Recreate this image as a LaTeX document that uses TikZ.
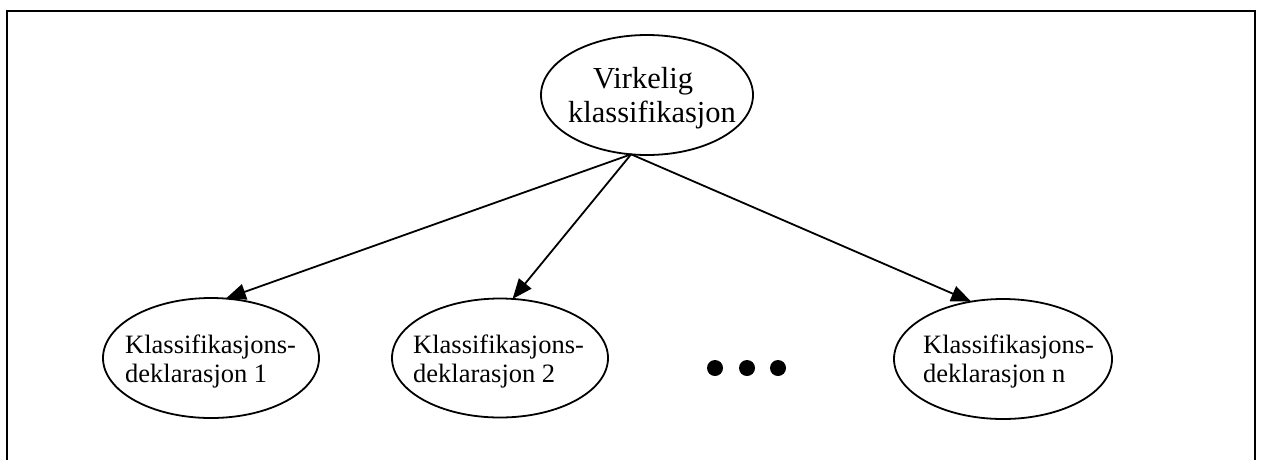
\documentclass[tikz,border=0pt]{standalone}
\usepackage{fontspec}
\setmainfont{Liberation Serif}[Ligatures=NoCommon]
\usetikzlibrary{shapes.geometric,arrows.meta}
\begin{document}
\begin{tikzpicture}[x=1pt,y=-1pt,
  oval/.style={draw,ellipse,line width=1.8pt,inner sep=0pt,outer sep=0pt},
  lbl/.style={inner sep=0pt,anchor=base west,align=left},
  small/.style={font=\fontsize{26.5pt}{28.5pt}\selectfont},
  big/.style={font=\fontsize{30.5pt}{34pt}\selectfont},
  link/.style={line width=1.8pt,-{Triangle[length=20pt,width=16pt]}},
  dot/.style={fill=black,circle,inner sep=0pt,minimum size=16pt}]
  \useasboundingbox (0,0) rectangle (1263,459);
  % frame
  \draw[line width=2.2pt] (7,470) -- (7,11) -- (1255,11) -- (1255,470);
  % ovals
  \node[oval,minimum width=212pt,minimum height=120pt] (top) at (647,95) {};
  \node[oval,minimum width=216pt,minimum height=120pt] (b1) at (211,358) {};
  \node[oval,minimum width=216pt,minimum height=119pt] (b2) at (500,358) {};
  \node[oval,minimum width=218pt,minimum height=120pt] (b3) at (1003,359) {};
  % labels (base anchor sits on the last line)
  \node[big,inner sep=0pt,anchor=base west] (t1) at (593,88) {Virkelig};
  \node[big,inner sep=0pt,anchor=base west] (t2) at (568,122) {klassifikasjon};
  \node[small,lbl] (l1) at (125,382) {Klassifikasjons-\\deklarasjon 1};
  \node[small,lbl] (l2) at (413,382) {Klassifikasjons-\\deklarasjon 2};
  \node[small,lbl] (l3) at (923,382) {Klassifikasjons-\\deklarasjon n};
  % connectors
  \coordinate (src) at (top.255);
  \draw[link] (src) -- (b1.76.6);
  \draw[link] (src) -- (b2.78.5);
  \draw[link] (src) -- (b3.119.2);
  % ellipsis dots
  \node[dot] (d1) at (715,368) {};
  \node[dot] (d2) at (747,368) {};
  \node[dot] (d3) at (778,368) {};
\end{tikzpicture}
\end{document}
